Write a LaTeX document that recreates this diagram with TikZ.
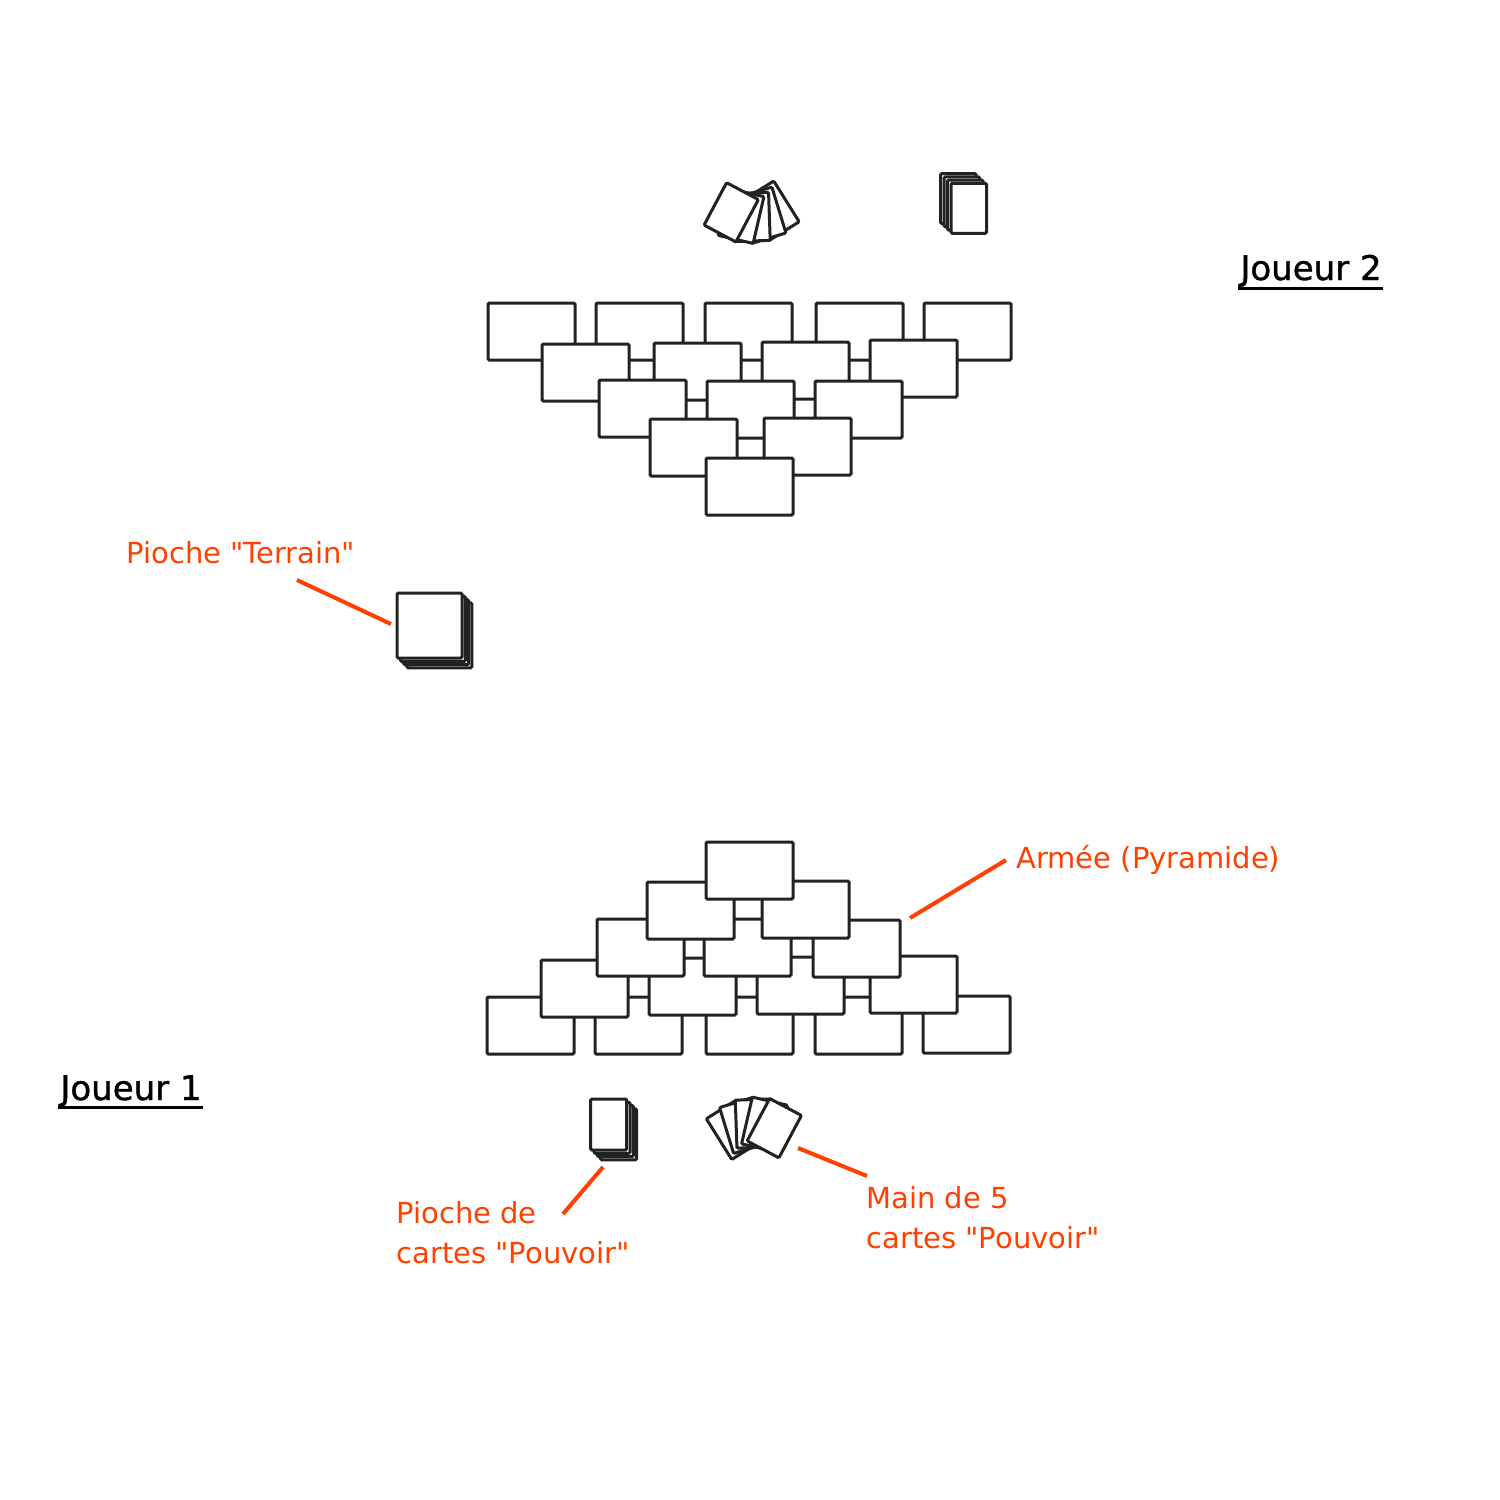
\documentclass[tikz,border=0pt]{standalone}
\usepackage{fontspec}
\setmainfont{DejaVu Sans}[Ligatures=TeXOff]
\newfontfamily\playerfont{DejaVu Sans}[Ligatures=TeXOff,FakeBold=1.2]
\usetikzlibrary{calc}
\definecolor{lbl}{RGB}{255,64,0}
\definecolor{ink}{RGB}{34,34,34}
\begin{document}
\begin{tikzpicture}[x=0.5pt,y=-0.5pt,
  card/.style={draw=ink,fill=white,line width=1.5pt,rounded corners=0.6pt},
  lbltext/.style={text=lbl,font=\fontsize{14.5}{20}\selectfont,inner sep=0pt,anchor=base west},
  callout/.style={draw=lbl,line width=2pt},
  player/.style={font=\playerfont\fontsize{17}{20}\selectfont,inner sep=0pt,anchor=base west},
  uline/.style={draw=black,line width=1.5pt}]
\useasboundingbox (0,0) rectangle (1500,1500);

% ---------- Joueur 2 pyramid (inverted), back row first ----------
\foreach \x/\y in {488/303,596/303,705/303,816/303,924/303,
                   542/344,654/343,762/342,870/340,
                   599/380,707/381,815/381,
                   650/419,764/418,
                   706/458}
  \draw[card] (\x,\y) rectangle ++(87,57);

% ---------- Joueur 1 pyramid, bottom row first ----------
\foreach \x/\y in {487/997,595/997,706/997,815/997,923/996,
                   541/960,649/958,757/957,870/956,
                   597/919,704/919,813/920,
                   647/882,762/881,
                   706/842}
  \draw[card] (\x,\y) rectangle ++(87,57);

% ---------- Decks ----------
\foreach \k in {3,2,1,0}
  \draw[card] ({951-3.45*\k},{183.3-3.2*\k}) rectangle ++(35.5,50);
\foreach \k in {3,2,1,0}
  \draw[card] ({397+3.3*\k},{593+3.3*\k}) rectangle ++(65,65);
\foreach \k in {3,2,1,0}
  \draw[card] ({590.7+3.3*\k},{1099+3.3*\k}) rectangle ++(36,51);

% ---------- Hands (fans) ----------
\begin{scope}[shift={(750,177)}]
  \foreach \a in {212,197,182,167,152}
    \draw[card,rotate=\a] (-18,-16) rectangle (18,-64);
\end{scope}
\begin{scope}[shift={(755.5,1163.5)}]
  \foreach \a in {32,17,2,-13,-28}
    \draw[card,rotate=\a] (-18,-16) rectangle (18,-64);
\end{scope}

% ---------- Player labels ----------
\node[player] (j2) at (1240,280) {Joueur 2};
\draw[uline] ($(j2.base west)+(-2,8)$) -- ($(j2.base east)+(1,8)$);
\node[player] (j1) at (60,1100) {Joueur 1};
\draw[uline] ($(j1.base west)+(-2,7)$) -- ($(j1.base east)+(1,7)$);

% ---------- Orange labels ----------
\node[lbltext] (terrain) at (126,563) {Pioche "Terrain"};
\node[lbltext] (armee) at (1016,868) {Armée (Pyramide)};
\node[lbltext] (pioche1) at (396,1223) {Pioche de};
\node[lbltext] (pioche2) at (396,1263) {cartes "Pouvoir"};
\node[lbltext] (main1) at (866,1208) {Main de 5};
\node[lbltext] (main2) at (866,1248) {cartes "Pouvoir"};

% ---------- Callout lines ----------
\coordinate (tA) at (297,580);  \coordinate (tB) at (391,624);
\coordinate (aA) at (1006,860); \coordinate (aB) at (910,918);
\coordinate (pA) at (603,1167); \coordinate (pB) at (563,1214);
\coordinate (mA) at (798,1148); \coordinate (mB) at (867,1176);
\draw[callout] (tA) -- (tB);
\draw[callout] (aA) -- (aB);
\draw[callout] (pA) -- (pB);
\draw[callout] (mA) -- (mB);
\end{tikzpicture}
\end{document}
